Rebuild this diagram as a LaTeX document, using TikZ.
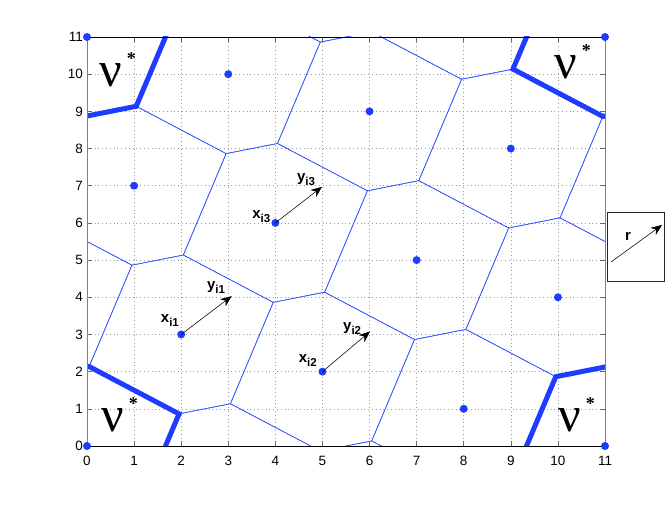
\documentclass[tikz,border=0pt]{standalone}
\usepackage{fontspec}
\setmainfont{Liberation Sans}
\newfontfamily\greekserif{Liberation Serif}
\usetikzlibrary{arrows.meta}
\definecolor{ptblue}{RGB}{30,60,255}
\definecolor{lnblue}{RGB}{50,85,255}
\newcommand\sublab[2]{{\fontsize{15}{15}\selectfont\bfseries #1}\raisebox{-4pt}{\fontsize{11.5}{11.5}\selectfont\bfseries #2}}
\newcommand\nustar{{\greekserif\fontsize{50}{50}\selectfont ν}\hspace{5pt}\raisebox{22pt}{\greekserif\fontsize{18}{18}\selectfont\bfseries *}}
\tikzset{
  gridline/.style={gray!80, line width=0.5pt, dash pattern=on 0.8pt off 3pt},
  tickmark/.style={gray!80!black, line width=0.5pt},
  vor/.style={lnblue, line width=0.6pt, line join=miter},
  vstar/.style={ptblue, line width=5pt, line join=miter},
  pt/.style={circle, fill=ptblue, inner sep=0pt, minimum size=8pt},
  arr/.style={black, line width=0.55pt, -{Stealth[length=11pt,width=9pt,inset=3.5pt]}},
  ticklab/.style={font=\fontsize{13.5}{13.5}\selectfont, inner sep=0pt},
  nulab/.style={anchor=base west, inner sep=0pt},
  lab/.style={inner sep=0pt}
}
\begin{document}
\begin{tikzpicture}[x=47.0909pt,y=37.1818pt]
\useasboundingbox (-87pt,-58pt) rectangle (581pt,446pt);
\fill[white] (-87pt,-58pt) rectangle (581pt,446pt);
% grid
\foreach \i in {1,...,10} {
  \draw[gridline] (\i,0) -- (\i,11);
  \draw[gridline] (0,\i) -- (11,\i);
}
% ticks and tick labels
\foreach \i in {0,...,11} {
  \draw[tickmark] (\i,0) -- ++(0,5pt) (\i,11) -- ++(0,-5pt) (0,\i) -- ++(5pt,0) (11,\i) -- ++(-5pt,0);
  \node[ticklab, anchor=north] (xl\i) at ([yshift=-10pt]\i,0) {\i};
  \node[ticklab, anchor=east] (yl\i) at ([xshift=-4pt]0,\i) {\i};
}
% Voronoi cells
\begin{scope}
  \clip (0,0) rectangle (11,11);
  \foreach \i in {-2,...,13} {
    \foreach \k in {-2,...,2} {
      \pgfmathsetmacro\yy{mod(7*\i,11)+11*\k}
      \draw[vor, shift={(\i,\yy)}] (43/22,19/22) -- (1/22,47/22) -- (-23/22,41/22) -- (-43/22,-19/22) -- (-1/22,-47/22) -- (23/22,-41/22) -- cycle;
    }
  }
  \foreach \cx/\cy in {0/0,0/11,11/0,11/11} {
    \draw[vstar, shift={(\cx,\cy)}] (43/22,19/22) -- (1/22,47/22) -- (-23/22,41/22) -- (-43/22,-19/22) -- (-1/22,-47/22) -- (23/22,-41/22) -- cycle;
  }
\end{scope}
% axes box
\draw[black, line width=0.6pt] (0,0) -- (11,0) (0,11) -- (11,11);
\draw[gray, line width=1pt] (0,0) -- (0,11) (11,0) -- (11,11);
% points
\foreach \px/\py in {0/0,0/11,11/0,11/11,1/7,2/3,3/10,4/6,5/2,6/9,7/5,8/1,9/8,10/4} {
  \node[pt] (p\px-\py) at (\px,\py) {};
}
% arrows
\coordinate (t1) at (3.07,4.03);
\coordinate (t2) at (6.01,3.08);
\coordinate (t3) at (4.99,6.97);
\draw[arr] (p2-3.center) -- (t1);
\draw[arr] (p5-2.center) -- (t2);
\draw[arr] (p4-6.center) -- (t3);
\node[lab] (xi1) at (1.76,3.37) {\sublab{x}{i1}};
\node[lab] (yi1) at (2.74,4.26) {\sublab{y}{i1}};
\node[lab] (xi2) at (4.69,2.29) {\sublab{x}{i2}};
\node[lab] (yi2) at (5.63,3.15) {\sublab{y}{i2}};
\node[lab] (xi3) at (3.70,6.17) {\sublab{x}{i3}};
\node[lab] (yi3) at (4.65,7.16) {\sublab{y}{i3}};
% nu* labels
\node[nulab] (nu1) at (12pt,359pt) {\nustar};
\node[nulab] (nu2) at (467pt,367pt) {\nustar};
\node[nulab] (nu3) at (14pt,15pt) {\nustar};
\node[nulab] (nu4) at (471pt,15pt) {\nustar};
% legend
\node[draw=gray!30!black, fill=white, line width=0.6pt, minimum width=57pt, minimum height=69pt, inner sep=0pt] (legend) at (548.5pt,199.5pt) {};
\coordinate (ra) at (524pt,184pt);
\coordinate (rb) at (575pt,221pt);
\draw[arr] (ra) -- (rb);
\node[lab] (rl) at (541pt,210pt) {\fontsize{15}{15}\selectfont\bfseries r};
\end{tikzpicture}
\end{document}
